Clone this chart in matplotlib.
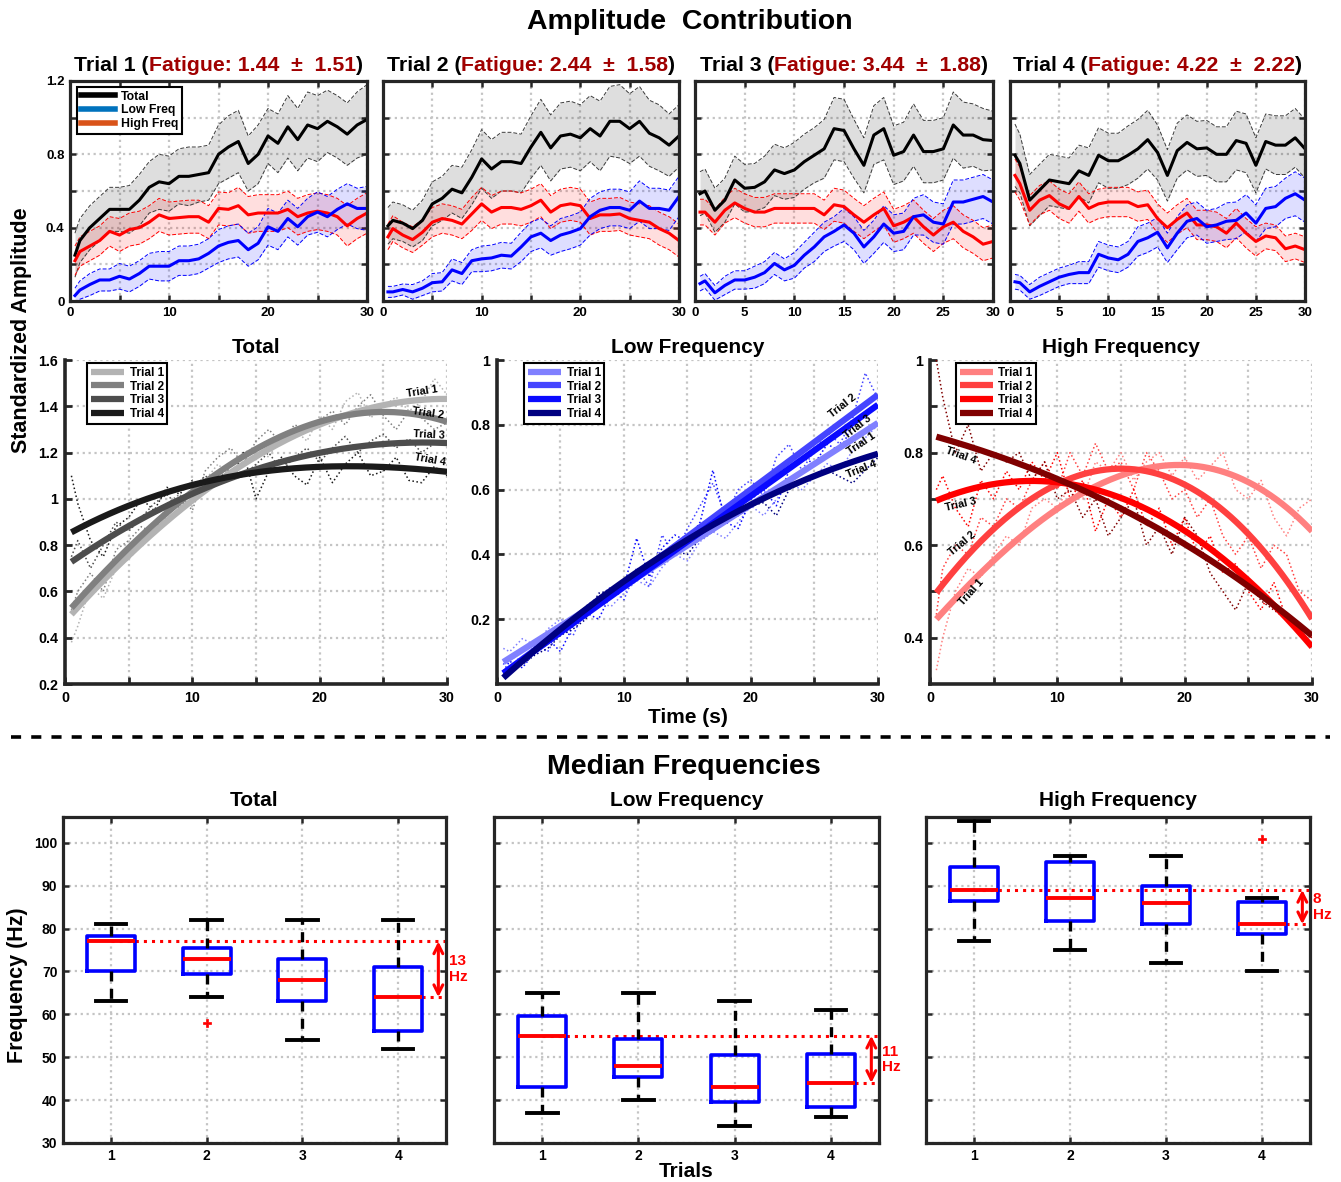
import numpy as np
import matplotlib
matplotlib.use('Agg')
import matplotlib.pyplot as plt
from matplotlib.lines import Line2D

plt.rcParams['font.family'] = ['Liberation Sans', 'DejaVu Sans']
plt.rcParams['font.weight'] = 'bold'
plt.rcParams['axes.titleweight'] = 'bold'
plt.rcParams['axes.labelweight'] = 'bold'

# ---------------- data: top row (mean +/- sd per trial) ----------------
t_top = [0.5] + list(range(1, 31))

fatigue_mean = [1.44, 2.44, 3.44, 4.22]
fatigue_sd = [1.51, 1.58, 1.88, 2.22]

total_mean = [
    [0.25, 0.33, 0.40, 0.45, 0.50, 0.50, 0.50, 0.55, 0.62, 0.65, 0.64, 0.68, 0.68, 0.69, 0.70, 0.80,
     0.84, 0.87, 0.75, 0.80, 0.90, 0.86, 0.95, 0.88, 0.96, 0.94, 0.98, 0.95, 0.91, 0.96, 0.99],
    [0.41, 0.44, 0.425, 0.395, 0.44, 0.53, 0.56, 0.61, 0.59, 0.675, 0.775, 0.72, 0.76, 0.76, 0.75, 0.84,
     0.92, 0.835, 0.90, 0.91, 0.89, 0.94, 0.90, 0.98, 0.98, 0.94, 0.98, 0.915, 0.89, 0.85, 0.90],
    [0.585, 0.60, 0.495, 0.55, 0.66, 0.615, 0.62, 0.65, 0.715, 0.695, 0.715, 0.76, 0.795, 0.83, 0.94, 0.93,
     0.83, 0.74, 0.905, 0.94, 0.795, 0.815, 0.905, 0.815, 0.815, 0.83, 0.96, 0.905, 0.905, 0.88, 0.875],
    [0.795, 0.75, 0.55, 0.605, 0.66, 0.65, 0.64, 0.71, 0.685, 0.795, 0.765, 0.765, 0.795, 0.83, 0.88, 0.81,
     0.685, 0.82, 0.865, 0.83, 0.835, 0.80, 0.80, 0.875, 0.86, 0.74, 0.87, 0.85, 0.85, 0.89, 0.83],
]
high_mean = [
    [0.22, 0.27, 0.30, 0.33, 0.38, 0.36, 0.39, 0.40, 0.43, 0.47, 0.45, 0.455, 0.46, 0.46, 0.43, 0.505,
     0.50, 0.52, 0.47, 0.48, 0.48, 0.48, 0.50, 0.46, 0.48, 0.49, 0.48, 0.46, 0.41, 0.45, 0.48],
    [0.35, 0.395, 0.36, 0.335, 0.375, 0.43, 0.45, 0.44, 0.42, 0.475, 0.53, 0.485, 0.51, 0.51, 0.50, 0.52,
     0.55, 0.485, 0.52, 0.53, 0.52, 0.45, 0.47, 0.47, 0.475, 0.45, 0.44, 0.43, 0.395, 0.37, 0.33],
    [0.485, 0.485, 0.43, 0.495, 0.535, 0.505, 0.485, 0.485, 0.505, 0.505, 0.505, 0.505, 0.505, 0.47, 0.525,
     0.515, 0.47, 0.43, 0.47, 0.505, 0.41, 0.43, 0.46, 0.405, 0.36, 0.405, 0.43, 0.38, 0.35, 0.31, 0.325],
    [0.685, 0.64, 0.495, 0.55, 0.575, 0.53, 0.505, 0.57, 0.505, 0.53, 0.54, 0.54, 0.54, 0.515, 0.525, 0.45,
     0.40, 0.445, 0.48, 0.415, 0.415, 0.405, 0.37, 0.425, 0.37, 0.325, 0.355, 0.345, 0.285, 0.30, 0.28],
]
low_mean = [
    [0.03, 0.06, 0.09, 0.115, 0.115, 0.135, 0.12, 0.15, 0.19, 0.19, 0.19, 0.22, 0.22, 0.23, 0.26, 0.30,
     0.32, 0.33, 0.28, 0.315, 0.405, 0.38, 0.45, 0.405, 0.46, 0.485, 0.46, 0.50, 0.53, 0.505, 0.505],
    [0.05, 0.05, 0.063, 0.05, 0.07, 0.10, 0.105, 0.17, 0.15, 0.22, 0.23, 0.235, 0.25, 0.245, 0.295, 0.35,
     0.37, 0.33, 0.36, 0.375, 0.395, 0.46, 0.495, 0.51, 0.51, 0.495, 0.545, 0.505, 0.505, 0.495, 0.57],
    [0.095, 0.11, 0.045, 0.085, 0.115, 0.115, 0.13, 0.155, 0.205, 0.17, 0.195, 0.25, 0.295, 0.35, 0.38,
     0.415, 0.37, 0.295, 0.35, 0.42, 0.37, 0.38, 0.46, 0.47, 0.43, 0.42, 0.54, 0.54, 0.555, 0.57, 0.54],
    [0.105, 0.10, 0.05, 0.08, 0.105, 0.13, 0.145, 0.155, 0.155, 0.255, 0.235, 0.225, 0.255, 0.325, 0.345,
     0.375, 0.29, 0.37, 0.435, 0.45, 0.405, 0.415, 0.435, 0.44, 0.48, 0.425, 0.505, 0.515, 0.56, 0.585, 0.55],
]
total_sd = [
    [0.12, 0.12, 0.12, 0.12, 0.12, 0.12, 0.13, 0.14, 0.14, 0.15, 0.15, 0.15, 0.16, 0.15, 0.15, 0.16,
     0.17, 0.17, 0.15, 0.16, 0.15, 0.16, 0.17, 0.17, 0.18, 0.18, 0.17, 0.17, 0.17, 0.18, 0.19],
    [0.10, 0.10, 0.10, 0.10, 0.11, 0.12, 0.12, 0.13, 0.14, 0.15, 0.16, 0.16, 0.16, 0.16, 0.16, 0.17,
     0.18, 0.18, 0.18, 0.18, 0.18, 0.18, 0.19, 0.19, 0.20, 0.19, 0.19, 0.18, 0.18, 0.17, 0.17],
    [0.12, 0.12, 0.12, 0.12, 0.13, 0.13, 0.13, 0.14, 0.14, 0.14, 0.15, 0.15, 0.15, 0.16, 0.17, 0.17,
     0.16, 0.15, 0.16, 0.17, 0.16, 0.16, 0.17, 0.17, 0.17, 0.17, 0.18, 0.18, 0.17, 0.17, 0.16],
    [0.17, 0.16, 0.14, 0.14, 0.14, 0.14, 0.14, 0.14, 0.15, 0.15, 0.15, 0.15, 0.16, 0.16, 0.16, 0.15,
     0.14, 0.15, 0.15, 0.15, 0.15, 0.15, 0.15, 0.16, 0.16, 0.15, 0.15, 0.16, 0.16, 0.16, 0.16],
]
high_sd = [
    [0.08, 0.08, 0.08, 0.08, 0.08, 0.09, 0.09, 0.09, 0.09, 0.09, 0.09, 0.09, 0.09, 0.09, 0.09, 0.09,
     0.09, 0.10, 0.10, 0.10, 0.10, 0.10, 0.10, 0.10, 0.10, 0.10, 0.10, 0.10, 0.11, 0.11, 0.11],
    [0.07, 0.07, 0.07, 0.07, 0.07, 0.08, 0.08, 0.08, 0.08, 0.09, 0.09, 0.09, 0.09, 0.09, 0.09, 0.09,
     0.09, 0.09, 0.09, 0.09, 0.09, 0.09, 0.09, 0.09, 0.09, 0.09, 0.09, 0.09, 0.09, 0.09, 0.09],
    [0.07, 0.07, 0.07, 0.07, 0.08, 0.08, 0.08, 0.08, 0.08, 0.08, 0.08, 0.08, 0.08, 0.08, 0.09, 0.09,
     0.09, 0.09, 0.09, 0.09, 0.09, 0.09, 0.09, 0.09, 0.09, 0.09, 0.09, 0.09, 0.09, 0.09, 0.09],
    [0.09, 0.09, 0.08, 0.08, 0.08, 0.08, 0.08, 0.08, 0.08, 0.08, 0.08, 0.08, 0.08, 0.08, 0.08, 0.08,
     0.08, 0.08, 0.08, 0.08, 0.08, 0.08, 0.08, 0.08, 0.08, 0.08, 0.07, 0.07, 0.07, 0.07, 0.07],
]
low_sd = [
    [0.04, 0.05, 0.06, 0.06, 0.06, 0.07, 0.07, 0.07, 0.07, 0.08, 0.08, 0.08, 0.08, 0.08, 0.08, 0.09,
     0.09, 0.09, 0.09, 0.09, 0.10, 0.10, 0.10, 0.10, 0.10, 0.11, 0.11, 0.11, 0.11, 0.11, 0.12],
    [0.03, 0.03, 0.03, 0.04, 0.04, 0.05, 0.05, 0.06, 0.06, 0.06, 0.07, 0.07, 0.07, 0.07, 0.08, 0.08,
     0.08, 0.08, 0.09, 0.09, 0.09, 0.10, 0.10, 0.10, 0.10, 0.10, 0.11, 0.11, 0.11, 0.11, 0.11],
    [0.04, 0.04, 0.04, 0.05, 0.05, 0.05, 0.06, 0.06, 0.06, 0.06, 0.07, 0.07, 0.08, 0.08, 0.08, 0.09,
     0.09, 0.09, 0.09, 0.10, 0.10, 0.10, 0.10, 0.11, 0.11, 0.11, 0.12, 0.12, 0.12, 0.12, 0.12],
    [0.04, 0.04, 0.04, 0.05, 0.05, 0.05, 0.05, 0.06, 0.06, 0.07, 0.07, 0.07, 0.07, 0.08, 0.08, 0.08,
     0.08, 0.09, 0.09, 0.09, 0.09, 0.09, 0.10, 0.10, 0.10, 0.10, 0.11, 0.11, 0.11, 0.12, 0.12],
]

# ---------------- data: middle row (raw dotted + fitted curves) ----------------
t_mid = [0.5] + list(range(1, 31))
raw_total = [
    [0.38, 0.45, 0.62, 0.57, 0.70, 0.74, 0.80, 0.86, 0.92, 0.95, 0.98, 1.08, 1.15, 1.10, 1.20, 1.22,
     1.18, 1.28, 1.30, 1.25, 1.36, 1.30, 1.42, 1.46, 1.35, 1.40, 1.44, 1.38, 1.42, 1.52, 1.45],
    [0.52, 0.60, 0.68, 0.60, 0.78, 0.82, 0.88, 0.85, 0.98, 1.02, 0.95, 1.12, 1.18, 1.22, 1.15, 1.25,
     1.30, 1.24, 1.32, 1.30, 1.34, 1.38, 1.32, 1.40, 1.45, 1.36, 1.30, 1.38, 1.35, 1.30, 1.33],
    [0.75, 0.82, 0.70, 0.80, 0.90, 0.86, 0.92, 0.98, 1.02, 0.96, 1.04, 1.10, 1.06, 1.14, 1.10, 1.15,
     1.20, 1.12, 1.18, 1.22, 1.16, 1.22, 1.27, 1.20, 1.25, 1.28, 1.22, 1.26, 1.20, 1.24, 1.25],
    [1.10, 0.98, 0.82, 0.75, 0.88, 0.92, 1.00, 0.95, 1.05, 1.02, 1.08, 1.04, 1.12, 1.08, 1.20, 1.00,
     1.12, 1.18, 1.10, 1.06, 1.18, 1.07, 1.15, 1.20, 1.10, 1.12, 1.18, 1.08, 1.07, 1.14, 1.10],
]
raw_low = [
    [0.11, 0.10, 0.14, 0.12, 0.17, 0.20, 0.18, 0.22, 0.25, 0.24, 0.28, 0.32, 0.30, 0.36, 0.40, 0.38,
     0.44, 0.47, 0.45, 0.50, 0.55, 0.52, 0.57, 0.62, 0.60, 0.64, 0.68, 0.66, 0.72, 0.76, 0.80],
    [0.06, 0.09, 0.07, 0.12, 0.10, 0.17, 0.15, 0.24, 0.27, 0.30, 0.26, 0.36, 0.30, 0.46, 0.40, 0.48,
     0.55, 0.62, 0.52, 0.60, 0.63, 0.58, 0.70, 0.74, 0.66, 0.72, 0.78, 0.74, 0.82, 0.96, 0.88],
    [0.04, 0.07, 0.05, 0.10, 0.14, 0.10, 0.18, 0.22, 0.20, 0.28, 0.30, 0.45, 0.33, 0.42, 0.46, 0.44,
     0.50, 0.66, 0.50, 0.48, 0.57, 0.60, 0.55, 0.66, 0.70, 0.68, 0.74, 0.72, 0.80, 0.84, 0.86],
    [0.03, 0.05, 0.06, 0.09, 0.11, 0.15, 0.17, 0.20, 0.28, 0.29, 0.30, 0.33, 0.36, 0.38, 0.41, 0.40,
     0.45, 0.47, 0.50, 0.52, 0.55, 0.56, 0.52, 0.60, 0.62, 0.64, 0.66, 0.64, 0.62, 0.66, 0.70],
]
raw_high = [
    [0.33, 0.40, 0.50, 0.55, 0.53, 0.58, 0.62, 0.60, 0.68, 0.70, 0.68, 0.73, 0.70, 0.78, 0.76, 0.80,
     0.74, 0.78, 0.80, 0.75, 0.79, 0.74, 0.77, 0.80, 0.72, 0.70, 0.74, 0.66, 0.62, 0.68, 0.70],
    [0.45, 0.55, 0.60, 0.58, 0.66, 0.64, 0.70, 0.68, 0.74, 0.78, 0.72, 0.80, 0.75, 0.82, 0.76, 0.78,
     0.72, 0.80, 0.76, 0.70, 0.72, 0.66, 0.70, 0.62, 0.58, 0.62, 0.55, 0.60, 0.58, 0.50, 0.48],
    [0.72, 0.75, 0.68, 0.64, 0.74, 0.70, 0.76, 0.72, 0.78, 0.74, 0.80, 0.70, 0.74, 0.63, 0.70, 0.66,
     0.72, 0.64, 0.68, 0.60, 0.66, 0.58, 0.62, 0.54, 0.56, 0.50, 0.46, 0.52, 0.44, 0.42, 0.40],
    [1.00, 0.92, 0.80, 0.86, 0.76, 0.80, 0.78, 0.80, 0.74, 0.78, 0.70, 0.72, 0.66, 0.70, 0.62, 0.66,
     0.70, 0.60, 0.64, 0.58, 0.66, 0.62, 0.54, 0.50, 0.46, 0.52, 0.48, 0.46, 0.44, 0.42, 0.40],
]

# points
fit_t7 = [0.5, 5, 10, 15, 20, 25, 30]
fit_total = [
    [0.51, 0.735, 0.996, 1.206, 1.31, 1.397, 1.437],
    [0.533, 0.78, 1.03, 1.227, 1.33, 1.37, 1.336],
    [0.728, 0.88, 1.03, 1.12, 1.20, 1.24, 1.24],
    [0.854, 0.974, 1.06, 1.11, 1.14, 1.14, 1.116],
]
fit_t4 = [0.5, 10, 20, 30]
fit_low = [
    [0.069, 0.30, 0.556, 0.805],
    [0.033, 0.31, 0.60, 0.893],
    [0.033, 0.30, 0.58, 0.862],
    [0.02, 0.315, 0.556, 0.71],
]
fit_high = [
    [0.443, 0.56, 0.679, 0.758, 0.77, 0.733, 0.632],
    [0.499, 0.632, 0.73, 0.77, 0.733, 0.618, 0.443],
    [0.696, 0.732, 0.737, 0.70, 0.632, 0.524, 0.38],
    [0.835, 0.794, 0.744, 0.679, 0.603, 0.51, 0.405],
]

# ---------------- data: bottom row (median frequency boxplots) ----------------
trials = [1, 2, 3, 4]
box_total = dict(med=[77, 73, 68, 64], q1=[70.2, 69.5, 63, 56.2], q3=[78.2, 75.4, 72.8, 71.1],
                 lo=[63, 64, 54, 52], hi=[81, 82, 82, 82], fl=[[], [58], [], []])
box_low = dict(med=[55, 48, 43, 44], q1=[43, 45.5, 39.5, 38.5], q3=[59.5, 54.3, 50.6, 50.8],
               lo=[37, 40, 34, 36], hi=[65, 65, 63, 61], fl=[[], [], [], []])
box_high = dict(med=[89, 87, 86, 81], q1=[86.3, 81.8, 81.1, 78.7], q3=[94.3, 95.6, 89.8, 86.2],
                lo=[77, 75, 72, 70], hi=[105, 97, 97, 87], fl=[[], [], [], [100.8]])
drop_labels = ['13\nHz', '11\nHz', '8\nHz']

# ---------------- styling ----------------
SPINE = '#262626'
DARKRED = '#A00000'
GRID = dict(color='#c4c4c4', linestyle=':', linewidth=1.6)

fig = plt.figure(figsize=(13.41, 11.82), dpi=100)


def box_axes(ax, size):
    for s in ax.spines.values():
        s.set_linewidth(2.3)
        s.set_color(SPINE)
    ax.tick_params(direction='in', length=4, width=1.8, top=True, right=True,
                   labelsize=size, color=SPINE, pad=4)
    ax.grid(True, **GRID)
    ax.set_axisbelow(True)


# ---------------- top row ----------------
top_pos = [(0.0522, 0.7453, 0.2215, 0.1862), (0.2856, 0.7453, 0.2207, 0.1862),
           (0.5183, 0.7453, 0.2222, 0.1862), (0.7532, 0.7453, 0.2200, 0.1862)]
title_parts = []
for i in range(4):
    ax = fig.add_axes(top_pos[i])
    series = [(total_mean[i], total_sd[i], '#000000', '#3a3a3a', 0.13),
              (high_mean[i], high_sd[i], '#ff0000', '#ff0000', 0.13),
              (low_mean[i], low_sd[i], '#0000ff', '#0000ff', 0.13)]
    for m, s, c, dc, a in series:
        m = np.array(m)
        s = np.array(s)
        ax.fill_between(t_top, m - s, m + s, color=c, alpha=a, lw=0)
        ax.plot(t_top, m + s, '--', color=dc, lw=0.7, dashes=(4, 2))
        ax.plot(t_top, m - s, '--', color=dc, lw=0.7, dashes=(4, 2))
    for m, s, c, dc, a in series:
        ax.plot(t_top, m, color=c, lw=2.2)
    ax.set_xlim(0, 30)
    ax.set_ylim(0, 1.2)
    ax.set_xticks(range(0, 31, 5))
    ax.set_yticks(np.round(np.arange(0, 1.21, 0.2), 1))
    if i < 2:
        ax.set_xticklabels(['0', '', '10', '', '20', '', '30'])
    else:
        ax.set_xticklabels([str(v) for v in range(0, 31, 5)])
    if i == 0:
        ax.set_yticklabels(['0', '', '0.4', '', '0.8', '', '1.2'])
        handles = [Line2D([], [], color=c, lw=4) for c in ['#000000', '#0072BD', '#D95319']]
        leg = ax.legend(handles, ['Total', 'Low Freq', 'High Freq'], loc='upper left',
                        bbox_to_anchor=(0.024, 0.973), fontsize=8.8, fancybox=False,
                        edgecolor='k', framealpha=1, borderpad=0.3, handlelength=2.8,
                        labelspacing=0.15, handletextpad=0.5, borderaxespad=0)
        leg.get_frame().set_linewidth(1.5)
    else:
        ax.set_yticklabels([])
    box_axes(ax, 9.5)

    kw = dict(fontsize=15.3, fontweight='bold', va='bottom', ha='left')
    p1 = ax.text(0, 1.025, f'Trial {i + 1} (', transform=ax.transAxes, color='k', **kw)
    p2 = ax.annotate(f'Fatigue: {fatigue_mean[i]:.2f}  \u00b1  {fatigue_sd[i]:.2f}',
                     xy=(1, 0), xycoords=p1, color=DARKRED, **kw)
    p3 = ax.annotate(')', xy=(1, 0), xycoords=p2, color='k', **kw)
    title_parts.append((ax, p1, p2, p3))

# ---------------- middle row ----------------
mid_pos = [(0.0485, 0.4213, 0.2849, 0.2741), (0.3706, 0.4213, 0.2841, 0.2741),
           (0.6935, 0.4213, 0.2849, 0.2741)]
mid_titles = ['Total', 'Low Frequency', 'High Frequency']
mid_colors = [['#b3b3b3', '#808080', '#4d4d4d', '#1a1a1a'],
              ['#8080ff', '#4545ff', '#0a0aff', '#000080'],
              ['#ff8080', '#ff4040', '#ff0000', '#800000']]
mid_raw = [raw_total, raw_low, raw_high]
mid_fit = [(fit_t7, fit_total, 3), (fit_t4, fit_low, 2), (fit_t7, fit_high, 3)]
mid_ylim = [(0.2, 1.6), (0.0, 1.0), (0.3, 1.0)]
mid_yticks = [np.round(np.arange(0.2, 1.61, 0.2), 1), np.round(np.arange(0.2, 1.01, 0.2), 1),
              np.round(np.arange(0.4, 1.01, 0.1), 1)]
mid_leg_x = [0.058, 0.071, 0.068]
curve_labels = [
    [(28.0, 1.462, 9), (28.5, 1.372, -8), (28.55, 1.275, -3), (28.7, 1.17, -10)],
    [(28.7, 0.741, 34), (27.25, 0.859, 38), (28.4, 0.793, 38), (28.7, 0.664, 22)],
    [(3.23, 0.499, 48), (2.52, 0.603, 40), (2.39, 0.688, 13), (2.44, 0.794, -20)],
]
tt = np.linspace(0.5, 30, 200)
for j in range(3):
    ax = fig.add_axes(mid_pos[j])
    ft, fv, deg = mid_fit[j]
    for k in range(4):
        ax.plot(t_mid, mid_raw[j][k], ':', color=mid_colors[j][k], lw=1.1)
    for k in range(4):
        coef = np.polyfit(ft, fv[k], deg)
        ax.plot(tt, np.polyval(coef, tt), color=mid_colors[j][k], lw=4.5,
                solid_capstyle='butt', label=f'Trial {k + 1}')
        lx, ly, rot = curve_labels[j][k]
        ax.text(lx, ly, f'Trial {k + 1}', rotation=rot, fontsize=7.8, ha='center',
                va='center', rotation_mode='anchor')
    ax.set_xlim(0, 30)
    ax.set_ylim(*mid_ylim[j])
    ax.set_xticks(range(0, 31, 5))
    ax.set_xticklabels(['0', '', '10', '', '20', '', '30'])
    ax.set_yticks(mid_yticks[j])
    if j == 2:
        ax.set_yticklabels([f'{v:g}' if round(v * 10) % 2 == 0 else '' for v in mid_yticks[j]])
    else:
        ax.set_yticklabels([f'{v:g}' for v in mid_yticks[j]])
    for s in ['top', 'right']:
        ax.spines[s].set_visible(False)
    for s in ['left', 'bottom']:
        ax.spines[s].set_linewidth(2.6)
        ax.spines[s].set_color(SPINE)
    ax.tick_params(direction='in', length=5, width=2, labelsize=10.3, color=SPINE, pad=5)
    ax.grid(True, **GRID)
    ax.set_axisbelow(True)
    ax.set_title(mid_titles[j], fontsize=15, pad=5)
    leg = ax.legend(loc='upper left', bbox_to_anchor=(mid_leg_x[j], 0.99), fontsize=8.5,
                    fancybox=False, edgecolor='k', framealpha=1, borderpad=0.3,
                    handlelength=2.8, labelspacing=0.15, handletextpad=0.5, borderaxespad=0)
    leg.get_frame().set_linewidth(1.5)

# ---------------- bottom row ----------------
bot_pos = [(0.0470, 0.0330, 0.2856, 0.2758), (0.3684, 0.0330, 0.2871, 0.2758),
           (0.6905, 0.0330, 0.2864, 0.2758)]
boxes = [box_total, box_low, box_high]
for j in range(3):
    ax = fig.add_axes(bot_pos[j])
    b = boxes[j]
    stats = [dict(med=b['med'][k], q1=b['q1'][k], q3=b['q3'][k], whislo=b['lo'][k],
                  whishi=b['hi'][k], fliers=b['fl'][k]) for k in range(4)]
    ax.bxp(stats, positions=trials, widths=0.5, capwidths=0.32, manage_ticks=False,
           boxprops=dict(color='#0000ff', lw=2.6),
           medianprops=dict(color='#ff0000', lw=2.8, solid_capstyle='butt'),
           whiskerprops=dict(color='k', lw=2.4, linestyle=(0, (3, 2.2))),
           capprops=dict(color='k', lw=2.8),
           flierprops=dict(marker='P', markerfacecolor='#ff0000', markeredgecolor='#ff0000',
                           markersize=6, markeredgewidth=0.5))
    med = b['med']
    ax.plot([1.0, 4.5], [med[0], med[0]], ':', color='#ff0000', lw=2.2, zorder=1)
    ax.plot([4.25, 4.5], [med[3], med[3]], ':', color='#ff0000', lw=2.2, zorder=1)
    ax.annotate('', xy=(4.42, med[0]), xytext=(4.42, med[3]), annotation_clip=False,
                arrowprops=dict(arrowstyle='<->', color='#ff0000', lw=2.2,
                                mutation_scale=16, shrinkA=0, shrinkB=0))
    ax.text(4.53, (med[0] + med[3]) / 2, drop_labels[j], color='#ff0000', fontsize=11,
            ha='left', va='center', clip_on=False, linespacing=1.15)
    ax.set_xlim(0.5, 4.5)
    ax.set_ylim(30, 106)
    ax.set_xticks(trials)
    ax.set_yticks(range(30, 101, 10))
    if j > 0:
        ax.set_yticklabels([])
    box_axes(ax, 10)
    ax.set_title(mid_titles[j], fontsize=15, pad=8)

# ---------------- figure-level text ----------------
fig.text(0.5145, 0.9814, 'Amplitude  Contribution', fontsize=20.5, ha='center', va='center')
fig.text(0.0164, 0.7208, 'Standardized Amplitude', fontsize=15.5, rotation=90,
         ha='center', va='center')
fig.text(0.513, 0.3934, 'Time (s)', fontsize=15, ha='center', va='center')
fig.add_artist(Line2D([0.008, 0.992], [0.3765, 0.3765], transform=fig.transFigure,
                      color='k', lw=2.6, linestyle=(0, (2.8, 2.8))))
fig.text(0.510, 0.351, 'Median Frequencies', fontsize=20.5, ha='center', va='center')
fig.text(0.0134, 0.1667, 'Frequency (Hz)', fontsize=15.5, rotation=90,
         ha='center', va='center')
fig.text(0.512, 0.0093, 'Trials', fontsize=15, ha='center', va='center')

# centre the two-colour titles above their axes
fig.canvas.draw()
for ax, p1, p2, p3 in title_parts:
    w = p3.get_window_extent().x1 - p1.get_window_extent().x0
    axw = ax.get_window_extent().width
    p1.set_x((1 - w / axw) / 2)

fig.savefig('out.png', dpi=100)
